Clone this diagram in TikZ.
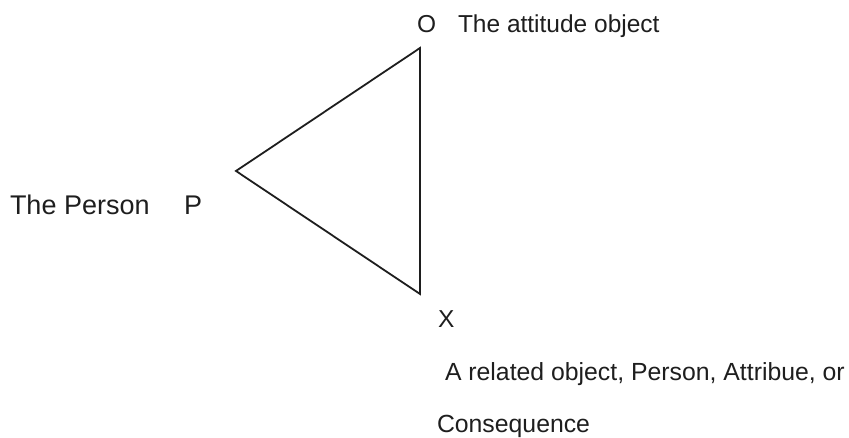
\documentclass[tikz,border=0pt]{standalone}
\usepackage{fontspec}
\setmainfont{Liberation Sans}
\definecolor{ink}{HTML}{1E1E1E}
\begin{document}
\begin{tikzpicture}[x=1pt,y=1pt,
  lbl/.style={anchor=base west,inner sep=0pt,outer sep=0pt,text=ink,font=\fontsize{24.5}{29}\selectfont},
  biglbl/.style={lbl,font=\fontsize{27}{32}\selectfont},
  lowlbl/.style={lbl,font=\fontsize{24.8}{29}\selectfont},
  edge/.style={draw=ink,line width=1.8pt,line join=miter}]
\useasboundingbox (0,0) rectangle (849,438);
\coordinate (p) at (236,267);
\coordinate (o) at (420,390);
\coordinate (x) at (420,144);
\draw[edge] (p) -- (o) -- (x) -- cycle;
\node[lbl] (oname) at (417,405) {O};
\node[lbl] (otext) at (458,405) {The attitude object};
\node[biglbl] (ptext) at (10,223) {The Person};
\node[biglbl] (pname) at (184,223) {P};
\node[lbl] (xname) at (438,110) {X};
\node[lowlbl] (xtext1) at (445,57) {A related object, Person, Attribue, or};
\node[lowlbl] (xtext2) at (437,5) {Consequence};
\end{tikzpicture}
\end{document}
